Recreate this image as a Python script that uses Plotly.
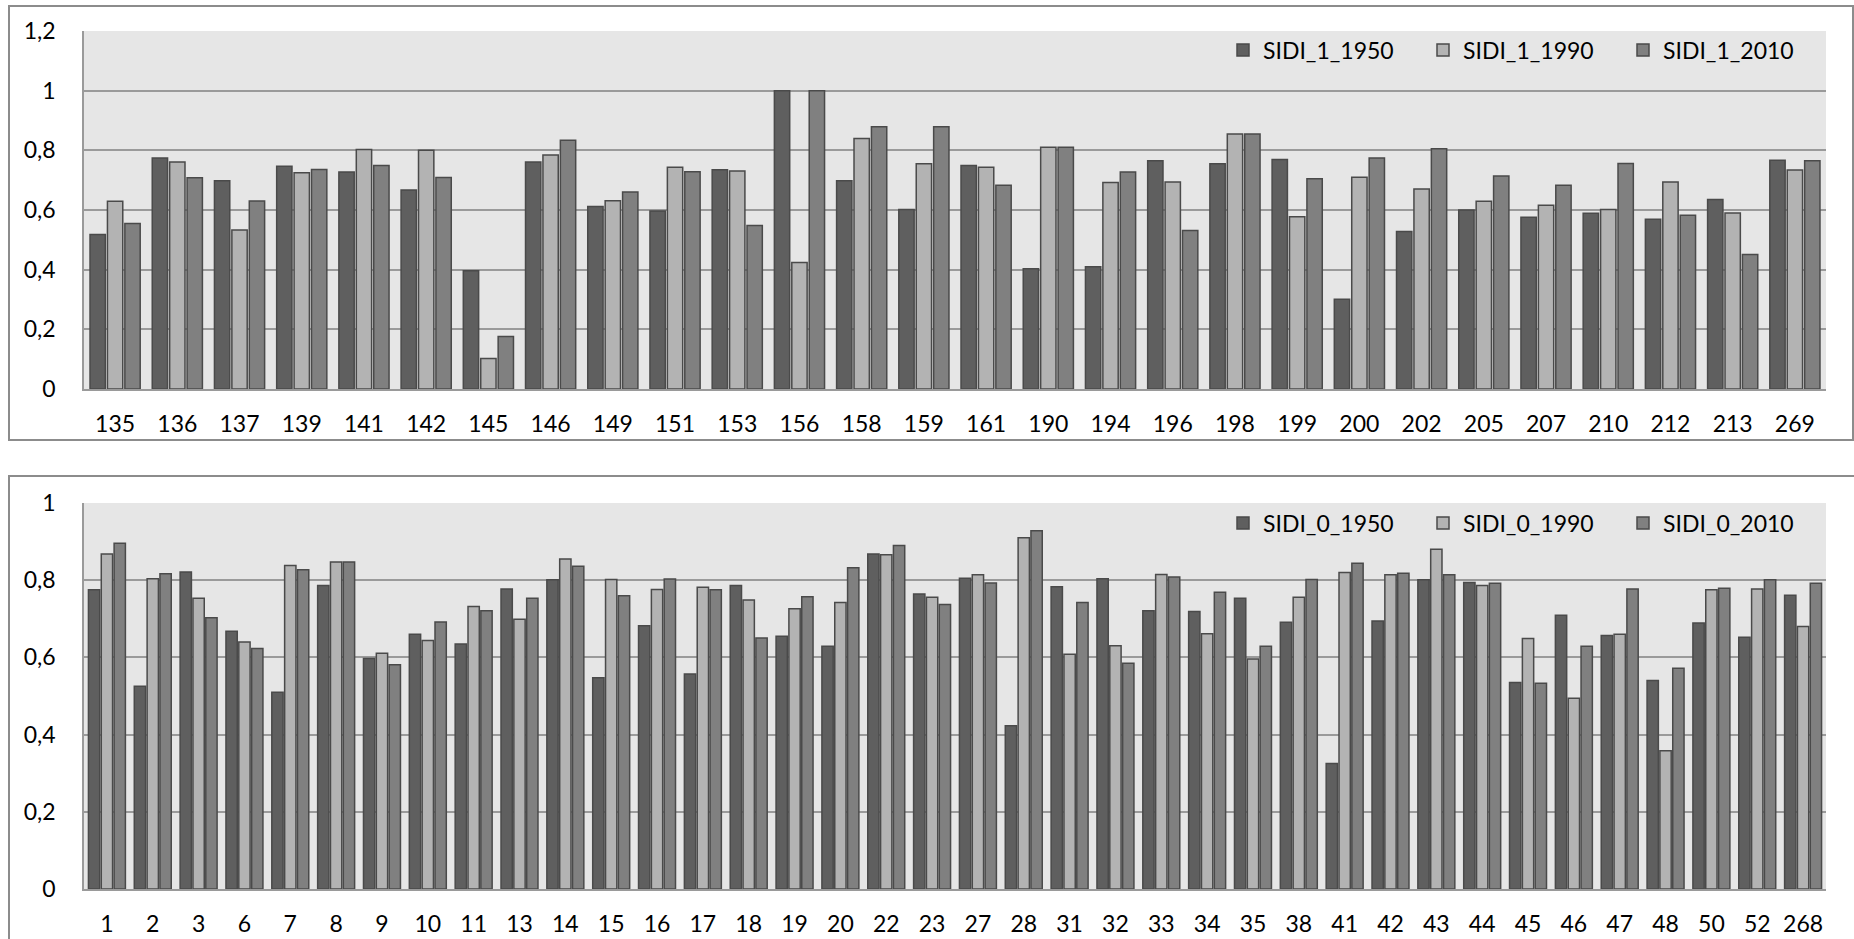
import plotly.graph_objects as go

W, H = 1854, 939

# ---------- data: top chart (SIDI_1) ----------
cats_1 = ["135", "136", "137", "139", "141", "142", "145", "146", "149", "151",
          "153", "156", "158", "159", "161", "190", "194", "196", "198", "199",
          "200", "202", "205", "207", "210", "212", "213", "269"]
sidi_1_1950 = [0.518, 0.774, 0.698, 0.747, 0.727, 0.667, 0.396, 0.761, 0.612, 0.597,
               0.735, 1.000, 0.698, 0.602, 0.749, 0.403, 0.410, 0.765, 0.755, 0.769,
               0.301, 0.528, 0.600, 0.576, 0.589, 0.569, 0.635, 0.767]
sidi_1_1990 = [0.629, 0.761, 0.533, 0.725, 0.803, 0.800, 0.102, 0.784, 0.631, 0.743,
               0.731, 0.424, 0.840, 0.755, 0.743, 0.810, 0.692, 0.694, 0.855, 0.577,
               0.710, 0.670, 0.629, 0.616, 0.602, 0.694, 0.590, 0.734]
sidi_1_2010 = [0.555, 0.708, 0.630, 0.736, 0.749, 0.709, 0.176, 0.834, 0.660, 0.728,
               0.548, 1.000, 0.879, 0.879, 0.683, 0.810, 0.727, 0.531, 0.855, 0.705,
               0.774, 0.805, 0.714, 0.683, 0.756, 0.582, 0.451, 0.765]

# ---------- data: bottom chart (SIDI_0) ----------
cats_0 = ["1", "2", "3", "6", "7", "8", "9", "10", "11", "13", "14", "15", "16",
          "17", "18", "19", "20", "22", "23", "27", "28", "31", "32", "33", "34",
          "35", "38", "41", "42", "43", "44", "45", "46", "47", "48", "50", "52", "268"]
sidi_0_1950 = [0.775, 0.525, 0.821, 0.668, 0.510, 0.786, 0.597, 0.660, 0.635, 0.777,
               0.801, 0.547, 0.682, 0.557, 0.786, 0.655, 0.629, 0.868, 0.764, 0.805,
               0.423, 0.783, 0.804, 0.721, 0.719, 0.753, 0.691, 0.325, 0.694, 0.801,
               0.794, 0.535, 0.709, 0.657, 0.540, 0.689, 0.652, 0.761]
sidi_0_1990 = [0.868, 0.804, 0.753, 0.640, 0.838, 0.847, 0.611, 0.644, 0.732, 0.699,
               0.855, 0.802, 0.776, 0.782, 0.749, 0.726, 0.742, 0.866, 0.756, 0.814,
               0.910, 0.608, 0.630, 0.815, 0.661, 0.596, 0.756, 0.820, 0.814, 0.880,
               0.786, 0.649, 0.494, 0.660, 0.358, 0.775, 0.777, 0.680]
sidi_0_2010 = [0.896, 0.817, 0.703, 0.623, 0.827, 0.847, 0.581, 0.692, 0.721, 0.753,
               0.836, 0.760, 0.803, 0.775, 0.650, 0.757, 0.832, 0.890, 0.737, 0.793,
               0.928, 0.742, 0.585, 0.808, 0.769, 0.629, 0.802, 0.844, 0.818, 0.814,
               0.792, 0.533, 0.629, 0.777, 0.572, 0.779, 0.801, 0.792]

y_ticks_top = [0, 0.2, 0.4, 0.6, 0.8, 1, 1.2]
y_ticks_bottom = [0, 0.2, 0.4, 0.6, 0.8, 1]

# ---------- style ----------
FONT = "Lato"
FS = 23
C1950, C1990, C2010 = "#5f5f5f", "#b3b3b3", "#808080"
EDGE = "#4a4a4a"
GRID = "#9a9a9a"
BORDER = "#8c8c8c"
PLOT_BG = "#e6e6e6"

def px_x(v):
    return v / W

def px_y(v):
    return 1 - v / H

fig = go.Figure()

def add(x, y, name, color, xa, ya, leg):
    fig.add_trace(go.Bar(
        x=x, y=y, name=name, xaxis=xa, yaxis=ya, legend=leg,
        marker=dict(color=color, line=dict(color=EDGE, width=1.5)),
        hoverinfo="x+y+name",
    ))

add(cats_1, sidi_1_1950, "SIDI_1_1950", C1950, "x", "y", "legend")
add(cats_1, sidi_1_1990, "SIDI_1_1990", C1990, "x", "y", "legend")
add(cats_1, sidi_1_2010, "SIDI_1_2010", C2010, "x", "y", "legend")
add(cats_0, sidi_0_1950, "SIDI_0_1950", C1950, "x2", "y2", "legend2")
add(cats_0, sidi_0_1990, "SIDI_0_1990", C1990, "x2", "y2", "legend2")
add(cats_0, sidi_0_2010, "SIDI_0_2010", C2010, "x2", "y2", "legend2")

xdom = [px_x(84), px_x(1826)]
top_dom = [px_y(389), px_y(31)]
bot_dom = [px_y(889), px_y(503)]

axis_font = dict(family=FONT, size=FS, color="#000000")

xcommon = dict(type="category", showgrid=False, showline=True, linecolor=GRID,
               linewidth=1.5, ticks="", tickfont=axis_font, zeroline=False,
               ticklabelstandoff=14, automargin=False)
ycommon = dict(showgrid=True, gridcolor=GRID, gridwidth=1.5, showline=True,
               linecolor=GRID, linewidth=1.5, ticks="", tickfont=axis_font,
               zeroline=False, ticklabelstandoff=22, automargin=False)

legend_common = dict(orientation="h", xanchor="left", yanchor="middle",
                     bgcolor="rgba(0,0,0,0)", borderwidth=0,
                     font=dict(family=FONT, size=FS, color="#000000"),
                     entrywidth=155, entrywidthmode="pixels",
                     itemclick=False, itemdoubleclick=False)

fig.update_layout(
    width=W, height=H,
    autosize=False,
    margin=dict(l=0, r=0, t=0, b=0, pad=0, autoexpand=False),
    paper_bgcolor="#ffffff",
    plot_bgcolor=PLOT_BG,
    separators=", ",
    barmode="group",
    bargap=0.16,
    bargroupgap=0.12,
    font=dict(family=FONT, size=FS, color="#000000"),
    xaxis=dict(domain=xdom, anchor="y", **xcommon),
    yaxis=dict(domain=top_dom, anchor="x", range=[0, 1.2], tickvals=y_ticks_top, **ycommon),
    xaxis2=dict(domain=xdom, anchor="y2", **xcommon),
    yaxis2=dict(domain=bot_dom, anchor="x2", range=[0, 1], tickvals=y_ticks_bottom, **ycommon),
    legend=dict(x=px_x(1223), y=px_y(50), **legend_common),
    legend2=dict(x=px_x(1223), y=px_y(523), **legend_common),
    showlegend=True,
    shapes=[
        dict(type="rect", xref="paper", yref="paper",
             x0=px_x(9), x1=px_x(1853), y0=px_y(440), y1=px_y(6),
             line=dict(color=BORDER, width=2), fillcolor="rgba(0,0,0,0)", layer="below"),
        dict(type="rect", xref="paper", yref="paper",
             x0=px_x(9), x1=px_x(1870), y0=px_y(960), y1=px_y(476),
             line=dict(color=BORDER, width=2), fillcolor="rgba(0,0,0,0)", layer="below"),
    ],
)

fig.write_html("out.html", config={"displayModeBar": False},
               post_script="document.body.style.margin='0';document.body.style.overflow='hidden';")
